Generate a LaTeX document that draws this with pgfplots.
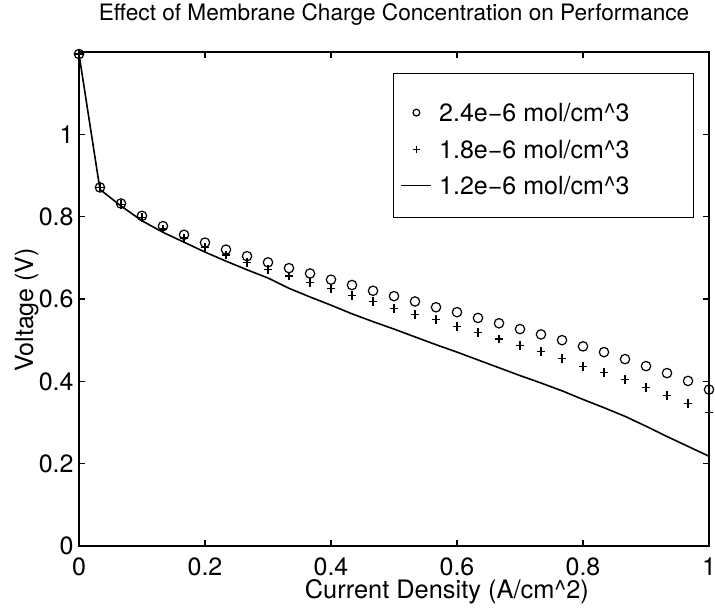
\documentclass[border=0pt]{standalone}
\usepackage{fontspec}
\setmainfont{TeX Gyre Heros}
\usepackage{pgfplots}
\pgfplotsset{compat=1.18}
\begin{document}
\begin{tikzpicture}
\begin{axis}[
  at={(0pt,0pt)}, anchor=south west,
  scale only axis, width=315pt, height=247pt,
  xmin=0, xmax=1, ymin=0, ymax=1.2,
  xtick={0,0.2,0.4,0.6,0.8,1}, ytick={0,0.2,0.4,0.6,0.8,1},
  xticklabels={0,0.2,0.4,0.6,0.8,1}, yticklabels={0,0.2,0.4,0.6,0.8,1},
  tick align=inside, major tick length=3pt,
  tick style={line width=0.6pt, black},
  axis line style={line width=0.7pt, black},
  clip=false,
  ticklabel style={font=\fontsize{12.5}{15}\selectfont},
  xticklabel style={anchor=north, inner sep=0pt, yshift=-5.5pt},
  yticklabel style={anchor=east, inner sep=0pt, xshift=-2.5pt},
  title={Effect of Membrane Charge Concentration on Performance},
  title style={at={(axis description cs:0.5,1)}, anchor=base, yshift=10pt, inner sep=0pt, font=\fontsize{11.3}{13}\selectfont},
  xlabel={Current Density (A/cm\textasciicircum 2)},
  xlabel style={at={(axis description cs:0.584,0)}, anchor=base, yshift=-26pt, inner sep=0pt, font=\fontsize{12.7}{15}\selectfont},
  ylabel={Voltage (V)},
  ylabel style={at={(axis description cs:-0.073,0.478)}, anchor=base, inner sep=0pt, font=\fontsize{12.5}{15}\selectfont},
  legend cell align=left,
  legend style={at={(axis description cs:0.4984,0.9575)}, anchor=north west, draw=black, line width=0.6pt,
    inner xsep=3.5pt, inner ysep=8.6pt, font=\fontsize{12.5}{15}\selectfont,
    nodes={inner sep=0pt, text height=15.4pt, text depth=2.85pt},
    /tikz/every odd column/.append style={column sep=3.5pt}},
  legend image code/.code={\draw[mark repeat=2,mark phase=2,#1,mark size=1.7pt,yshift=-1.8pt] plot coordinates {(0pt,0pt) (7.5pt,0pt) (15pt,0pt)};},
]
\addplot[only marks, mark=o, mark size=2.35pt, mark options={line width=0.6pt, black}] coordinates {
(0,1.195) (0.0333,0.871) (0.0667,0.832) (0.1,0.802) (0.1333,0.777) (0.1667,0.756)
(0.2,0.737) (0.2333,0.720) (0.2667,0.704) (0.3,0.689) (0.3333,0.675) (0.3667,0.662)
(0.4,0.647) (0.4333,0.634) (0.4667,0.620) (0.5,0.607) (0.5333,0.594) (0.5667,0.580)
(0.6,0.568) (0.6333,0.554) (0.6667,0.541) (0.7,0.527) (0.7333,0.514) (0.7667,0.500)
(0.8,0.485) (0.8333,0.471) (0.8667,0.454) (0.9,0.437) (0.9333,0.420) (0.9667,0.401)
(1,0.380)};
\addlegendentry{\makebox[123.5pt][l]{2.4e−6 mol/cm\textasciicircum 3}}
\addplot[only marks, mark=+, mark size=2.2pt, mark options={line width=0.6pt, black}] coordinates {
(0,1.195) (0.0333,0.871) (0.0667,0.830) (0.1,0.798) (0.1333,0.770) (0.1667,0.748)
(0.2,0.726) (0.2333,0.707) (0.2667,0.689) (0.3,0.672) (0.3333,0.656) (0.3667,0.641)
(0.4,0.625) (0.4333,0.608) (0.4667,0.593) (0.5,0.577) (0.5333,0.563) (0.5667,0.550)
(0.6,0.534) (0.6333,0.518) (0.6667,0.503) (0.7,0.488) (0.7333,0.472) (0.7667,0.455)
(0.8,0.437) (0.8333,0.421) (0.8667,0.404) (0.9,0.386) (0.9333,0.366) (0.9667,0.346)
(1,0.325)};
\addlegendentry{\makebox[123.5pt][l]{1.8e−6 mol/cm\textasciicircum 3}}
\addplot[black, line width=0.8pt, mark=none] coordinates {
(0,1.195) (0.0333,0.866) (0.0667,0.826) (0.1,0.790) (0.1333,0.762) (0.1667,0.738)
(0.2,0.714) (0.2333,0.692) (0.2667,0.671) (0.3,0.651) (0.3333,0.626) (0.3667,0.605)
(0.4,0.585) (0.4333,0.564) (0.4667,0.545) (0.5,0.527) (0.5333,0.508) (0.5667,0.489)
(0.6,0.471) (0.6333,0.452) (0.6667,0.433) (0.7,0.414) (0.7333,0.396) (0.7667,0.377)
(0.8,0.356) (0.8333,0.336) (0.8667,0.315) (0.9,0.291) (0.9333,0.266) (0.9667,0.242)
(1,0.218)};
\addlegendentry{\makebox[123.5pt][l]{1.2e−6 mol/cm\textasciicircum 3}}
\end{axis}
\pgfresetboundingbox
\useasboundingbox (-39.5pt,-30.5pt) rectangle (318pt,273pt);
\end{tikzpicture}
\end{document}
